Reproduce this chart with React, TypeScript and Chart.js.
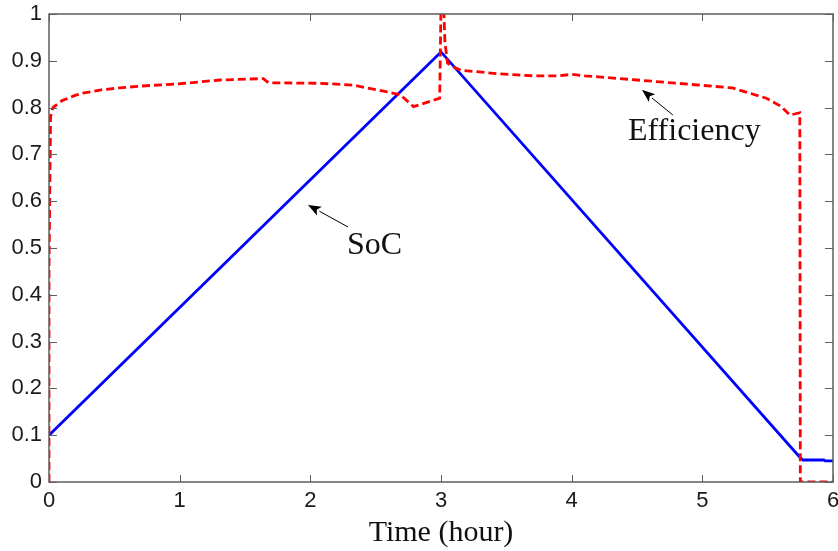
import React, { useEffect, useRef } from "react";
import { Chart, registerables } from "chart.js";

Chart.register(...registerables);

// SoC (blue, solid): [time in hours, state of charge]
const socTime = [0, 3.0, 5.746, 5.77, 5.93, 5.94, 6.0];
const socValue = [0.1, 0.919, 0.053, 0.047, 0.047, 0.045, 0.045];

// Efficiency (red, dashed)
const effTime = [
  0, 0, 0.012, 0.03, 0.1, 0.2, 0.26, 0.4, 0.54, 0.7, 1.0, 1.31, 1.64, 1.68, 2.07,
  2.33, 2.58, 2.69, 2.79, 2.99, 3.0, 3.02, 3.03, 3.05, 3.1, 3.15, 3.45, 3.7, 3.9,
  4.0, 4.1, 4.5, 4.98, 5.23, 5.49, 5.6, 5.67, 5.746, 5.75, 6.0,
];
const effValue = [
  0, 0.45, 0.78, 0.8, 0.815, 0.826, 0.831, 0.838, 0.842, 0.846, 0.851, 0.859, 0.862,
  0.853, 0.852, 0.848, 0.834, 0.827, 0.802, 0.82, 1.02, 1.02, 0.94, 0.895, 0.886,
  0.88, 0.872, 0.868, 0.868, 0.871, 0.868, 0.859, 0.848, 0.842, 0.82, 0.803, 0.784,
  0.789, 0, 0,
];

const xTicks = [0, 1, 2, 3, 4, 5, 6];
const yTicks = [0, 0.1, 0.2, 0.3, 0.4, 0.5, 0.6, 0.7, 0.8, 0.9, 1];

// Annotations in data coordinates: text anchor, arrow tail, arrow tip
const annotations = [
  { text: "SoC", tx: 2.28, ty: 0.487, ax: 2.288, ay: 0.545, bx: 1.982, by: 0.592 },
  { text: "Efficiency", tx: 4.431, ty: 0.731, ax: 4.775, ay: 0.784, bx: 4.538, by: 0.838 },
];

const framePlugin = {
  id: "framePlugin",
  afterDraw(chart: any) {
    const ctx = chart.ctx;
    const { left, right, top, bottom } = chart.chartArea;
    const xs = chart.scales.x;
    const ys = chart.scales.y;
    ctx.save();
    ctx.strokeStyle = "#5e5e5e";
    ctx.lineWidth = 1.5;
    ctx.strokeRect(left, top, right - left, bottom - top);
    ctx.lineWidth = 1;
    ctx.beginPath();
    xTicks.forEach((v) => {
      const px = Math.round(xs.getPixelForValue(v)) + 0.5;
      ctx.moveTo(px, bottom);
      ctx.lineTo(px, bottom - 7);
      ctx.moveTo(px, top);
      ctx.lineTo(px, top + 7);
    });
    yTicks.forEach((v) => {
      const py = Math.round(ys.getPixelForValue(v)) + 0.5;
      ctx.moveTo(left, py);
      ctx.lineTo(left + 8, py);
      ctx.moveTo(right, py);
      ctx.lineTo(right - 8, py);
    });
    ctx.stroke();

    // annotations
    annotations.forEach((a) => {
      const x1 = xs.getPixelForValue(a.ax);
      const y1 = ys.getPixelForValue(a.ay);
      const x2 = xs.getPixelForValue(a.bx);
      const y2 = ys.getPixelForValue(a.by);
      const ang = Math.atan2(y2 - y1, x2 - x1);
      const headLen = 13;
      const headW = 5;
      const bxp = x2 - headLen * Math.cos(ang);
      const byp = y2 - headLen * Math.sin(ang);
      ctx.strokeStyle = "#000";
      ctx.lineWidth = 1;
      ctx.beginPath();
      ctx.moveTo(x1, y1);
      ctx.lineTo(bxp, byp);
      ctx.stroke();
      ctx.fillStyle = "#000";
      ctx.beginPath();
      ctx.moveTo(x2, y2);
      ctx.lineTo(bxp + headW * Math.sin(ang), byp - headW * Math.cos(ang));
      ctx.lineTo(bxp + 3 * Math.cos(ang), byp + 3 * Math.sin(ang));
      ctx.lineTo(bxp - headW * Math.sin(ang), byp + headW * Math.cos(ang));
      ctx.closePath();
      ctx.fill();

      ctx.fillStyle = "#111";
      ctx.font = "32px 'Liberation Serif'";
      ctx.textAlign = "left";
      ctx.textBaseline = "alphabetic";
      ctx.fillText(a.text, xs.getPixelForValue(a.tx), ys.getPixelForValue(a.ty));
    });
    ctx.restore();
  },
};

export default function App() {
  const ref = useRef<HTMLCanvasElement | null>(null);

  useEffect(() => {
    if (!ref.current) return;
    const chart = new Chart(ref.current, {
      type: "line",
      data: {
        datasets: [
          {
            label: "Efficiency",
            data: effTime.map((t, i) => ({ x: t, y: effValue[i] })),
            borderColor: "#ff0000",
            borderWidth: 2.8,
            borderDash: [8, 4],
            pointRadius: 0,
            tension: 0,
            fill: false,
          },
          {
            label: "SoC",
            data: socTime.map((t, i) => ({ x: t, y: socValue[i] })),
            borderColor: "#0000ff",
            borderWidth: 2.8,
            pointRadius: 0,
            tension: 0,
            fill: false,
          },
        ],
      },
      options: {
        animation: false,
        responsive: false,
        events: [],
        layout: { padding: { top: 14, right: 5, left: 0, bottom: 0 } },
        plugins: { legend: { display: false }, tooltip: { enabled: false } },
        scales: {
          x: {
            type: "linear",
            min: 0,
            max: 6,
            afterBuildTicks: (s: any) => {
              s.ticks = xTicks.map((v) => ({ value: v }));
            },
            afterFit: (s: any) => {
              s.height = 69;
              s.paddingLeft = 0;
              s.paddingRight = 0;
            },
            grid: { display: false, drawTicks: false },
            border: { display: false },
            ticks: {
              padding: 6,
              color: "#1a1a1a",
              font: { family: "'Liberation Sans'", size: 22 },
              maxRotation: 0,
              callback: (v: any) => String(v),
            },
            title: {
              display: true,
              text: "Time (hour)",
              color: "#111",
              padding: 0,
              font: { family: "'Liberation Serif'", size: 30 },
            },
          },
          y: {
            type: "linear",
            min: 0,
            max: 1,
            afterBuildTicks: (s: any) => {
              s.ticks = yTicks.map((v) => ({ value: v }));
            },
            afterFit: (s: any) => {
              s.width = 49;
              s.paddingTop = 0;
              s.paddingBottom = 0;
            },
            grid: { display: false, drawTicks: false },
            border: { display: false },
            ticks: {
              padding: 7,
              color: "#1a1a1a",
              font: { family: "'Liberation Sans'", size: 22 },
              callback: (v: any) => String(Number(Number(v).toFixed(1))),
            },
          },
        },
      },
      plugins: [framePlugin],
    });
    return () => chart.destroy();
  }, []);

  return (
    <div style={{ position: "fixed", left: 0, top: 0, width: 838, height: 551, background: "#fff" }}>
      <canvas ref={ref} width={838} height={551} style={{ display: "block" }} />
    </div>
  );
}
